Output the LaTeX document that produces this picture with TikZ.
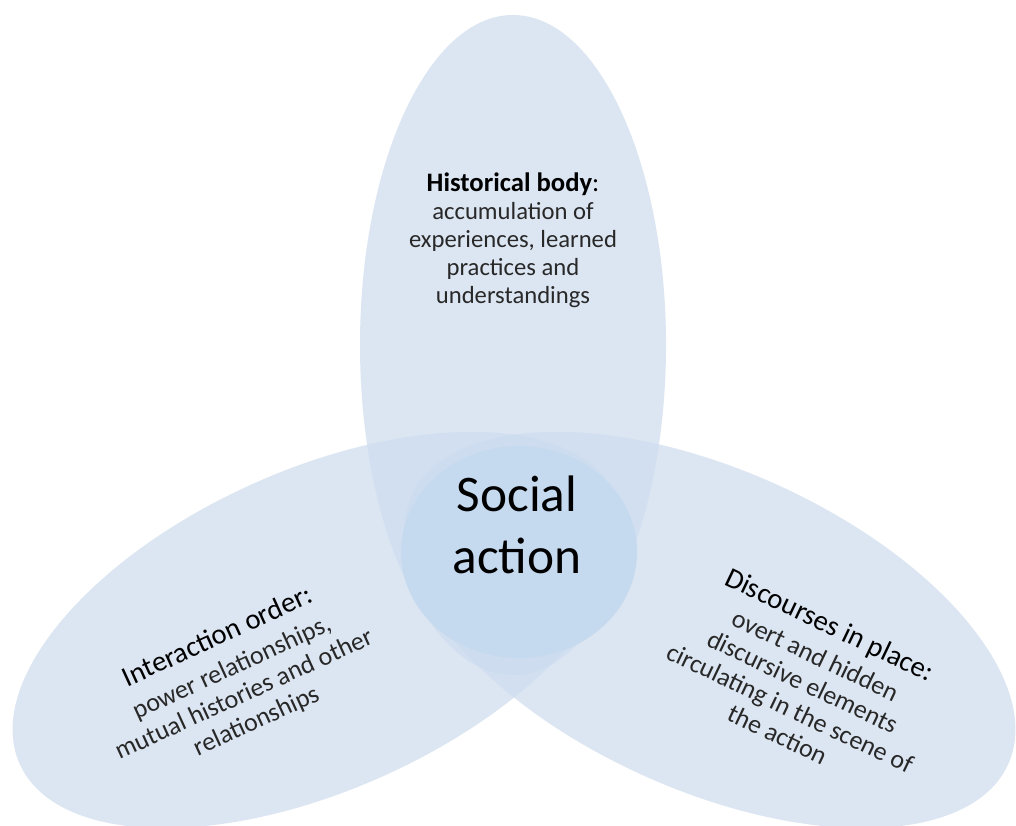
\documentclass[tikz,border=0pt]{standalone}
\usepackage{fontspec}
\setmainfont{Carlito}
\definecolor{colSingle}{RGB}{220,230,242}
\definecolor{colDouble}{RGB}{209,223,240}
\definecolor{colTriple}{RGB}{205,221,239}
\definecolor{colCore}{RGB}{197,217,239}
\definecolor{colBody}{RGB}{40,40,40}
\begin{document}
\begin{tikzpicture}[x=0.75pt,y=0.75pt,
  label/.style={align=center, inner sep=0pt, text=colBody},
  leftell/.style={rotate around={24.2:(318,195)}},
  rightell/.style={rotate around={-24.2:(710,195)}}]
\useasboundingbox (0,0) rectangle (1016,825);
\fill[white] (0,0) rectangle (1016,825);
% single ellipses
\fill[colSingle,leftell] (318,195) ellipse [x radius=327, y radius=160];
\fill[colSingle,rightell] (710,195) ellipse [x radius=327, y radius=160];
\fill[colSingle] (513,480) ellipse [x radius=153, y radius=330];
% pairwise overlaps
\begin{scope}
  \clip[leftell] (318,195) ellipse [x radius=327, y radius=160];
  \fill[colDouble] (513,480) ellipse [x radius=153, y radius=330];
  \fill[colDouble,rightell] (710,195) ellipse [x radius=327, y radius=160];
\end{scope}
\begin{scope}
  \clip (513,480) ellipse [x radius=153, y radius=330];
  \fill[colDouble,rightell] (710,195) ellipse [x radius=327, y radius=160];
\end{scope}
% triple overlap
\begin{scope}
  \clip[leftell] (318,195) ellipse [x radius=327, y radius=160];
  \clip[rightell] (710,195) ellipse [x radius=327, y radius=160];
  \fill[colTriple] (513,480) ellipse [x radius=153, y radius=330];
\end{scope}
% central core
\fill[colCore] (519,273) ellipse [x radius=118, y radius=106];
% texts
\node[label, text=black, font=\fontsize{38.5}{47}\selectfont] (social) at (517,300) {Social\\action};
\node[label, font=\fontsize{18.5}{21}\selectfont] (hist) at (513,585)
  {{\fontsize{20}{21}\selectfont\color{black}\textbf{Historical body}:}\\accumulation of\\experiences, learned\\practices and\\understandings};
\node[label, rotate=24.6, font=\fontsize{19.5}{22}\selectfont] (inter) at (237,146)
  {{\fontsize{21.5}{22}\selectfont\color{black}Interaction order:}\\[3pt]power relationships,\\mutual histories and other\\relationships};
\node[label, rotate=-25.5, font=\fontsize{19.5}{22}\selectfont] (disc) at (804,146)
  {{\fontsize{21.5}{22}\selectfont\color{black}Discourses in place:}\\[3pt]overt and hidden\\discursive elements\\circulating in the scene of\\the action};
\end{tikzpicture}
\end{document}
